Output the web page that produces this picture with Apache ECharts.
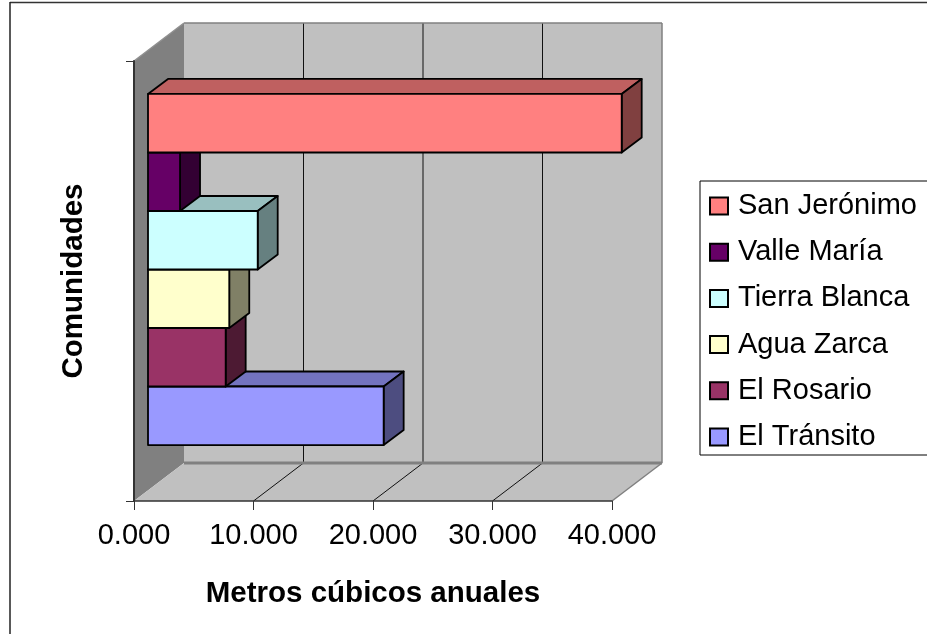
<!DOCTYPE html>
<html>
<head>
<meta charset="utf-8">
<style>html,body{margin:0;padding:0;background:#fff}#chart{width:927px;height:634px}</style>
<script src="https://cdn.jsdelivr.net/npm/echarts@6/dist/echarts.min.js"></script>
</head>
<body>
<div id="chart"></div>
<script>
// Annual volume per community, listed from the bottom bar to the top bar
const communities = ['El Tránsito', 'El Rosario', 'Agua Zarca', 'Tierra Blanca', 'Valle María', 'San Jerónimo'];
const annualVolumes = [19720, 6500, 6800, 9180, 2680, 39640];
const barColors = ['#9999ff', '#993366', '#ffffcc', '#ccffff', '#660066', '#ff8080'];
const xTicks = [0, 10000, 20000, 30000, 40000];
const xTickLabels = ['0.000', '10.000', '20.000', '30.000', '40.000'];

const FONT = '"Liberation Sans", Arial, sans-serif';
// Oblique projection of the box: room depth, bar inset and bar depth in pixels
const ROOM = [50, -38];
const INSET = [14, -11.5];
const BAR_DEPTH = [20, -15];
const SLOTS = 7.52;

const shade = (hex, f) => {
  const n = parseInt(hex.slice(1), 16);
  const c = [n >> 16, (n >> 8) & 255, n & 255].map(v => Math.round(v * f));
  return `rgb(${c.join(',')})`;
};
const poly = (points, fill, stroke, lineWidth) => ({
  type: 'polygon',
  shape: { points },
  style: { fill, stroke: stroke || null, lineWidth: lineWidth || 0, lineJoin: 'round' }
});
const seg = (a, b, stroke, lineWidth) => ({
  type: 'line',
  shape: { x1: a[0], y1: a[1], x2: b[0], y2: b[1] },
  style: { stroke, lineWidth }
});
const shift = (p, d) => [p[0] + d[0], p[1] + d[1]];

// Walls, floor and gridlines of the 3D room
function renderRoom(params, api) {
  const centre = api.coord([0, 0]);
  const band = api.size([0, 1])[1];
  const top = centre[1] - band / 2, bottom = centre[1] + band / 2;
  const xEnd = api.coord([xTicks[xTicks.length - 1], 0])[0];
  const fl = [centre[0], top], bl = [centre[0], bottom], br = [xEnd, bottom], tr = [xEnd, top];
  const children = [
    poly([fl, shift(fl, ROOM), shift(bl, ROOM), bl], '#808080'),
    poly([shift(fl, ROOM), shift(tr, ROOM), shift(br, ROOM), shift(bl, ROOM)], '#c0c0c0'),
    poly([bl, br, shift(br, ROOM), shift(bl, ROOM)], '#c0c0c0')
  ];
  xTicks.slice(1, -1).forEach(t => {
    const x = api.coord([t, 0])[0];
    const b = [x, bottom];
    const back = shift(b, ROOM);
    children.push(seg(b, back, '#111', 1));
    children.push(seg(back, [back[0], top + ROOM[1]], '#111', 1));
  });
  children.push(seg(shift(bl, ROOM), shift(br, ROOM), '#808080', 3));
  children.push(seg(shift(fl, ROOM), shift(tr, ROOM), '#808080', 1.5));
  children.push(seg(shift(tr, ROOM), shift(br, ROOM), '#808080', 1.5));
  children.push(seg(br, shift(br, ROOM), '#808080', 1.5));
  children.push(seg(fl, shift(fl, ROOM), '#909090', 1.5));
  return { type: 'group', children };
}

// One cuboid bar: front, top and side faces
const renderBar = (slot, color) => (params, api) => {
  const zero = api.coord([0, 0]);
  const end = api.coord([api.value(0), 0]);
  const band = api.size([0, 1])[1];
  const h = band / SLOTS;
  const yMid = zero[1] + INSET[1];
  const y1 = yMid + (3 - slot) * h;
  const y0 = y1 - h;
  const x0 = zero[0] + INSET[0];
  const x1 = end[0] + INSET[0];
  const a = [x0, y0], b = [x1, y0], c = [x1, y1], d = [x0, y1];
  const edge = '#000';
  return {
    type: 'group',
    children: [
      poly([a, b, shift(b, BAR_DEPTH), shift(a, BAR_DEPTH)], shade(color, 0.75), edge, 1.8),
      poly([b, c, shift(c, BAR_DEPTH), shift(b, BAR_DEPTH)], shade(color, 0.5), edge, 1.8),
      poly([a, b, c, d], color, edge, 1.8)
    ]
  };
};

const chart = echarts.init(document.getElementById('chart'), null, { renderer: 'canvas' });
chart.setOption({
  animation: false,
  backgroundColor: '#fff',
  grid: { left: 134, top: 61, width: 478, height: 440, containLabel: false },
  xAxis: {
    type: 'value', min: 0, max: 40000, interval: 10000, z: 5,
    name: 'Metros cúbicos anuales', nameLocation: 'middle', nameGap: 78,
    nameTextStyle: { fontFamily: FONT, fontSize: 29.5, fontWeight: 'bold', color: '#000' },
    axisLine: { show: true, lineStyle: { color: '#333', width: 1.5 } },
    axisTick: { show: true, length: 9, lineStyle: { color: '#333', width: 1 } },
    axisLabel: {
      fontFamily: FONT, fontSize: 29, color: '#000', margin: 20,
      hideOverlap: false, showMinLabel: true, showMaxLabel: true,
      formatter: v => xTickLabels[xTicks.indexOf(v)]
    },
    splitLine: { show: false }
  },
  yAxis: {
    type: 'category', data: [''], z: 5,
    name: 'Comunidades', nameLocation: 'middle', nameGap: 45, nameRotate: 90,
    nameTextStyle: { fontFamily: FONT, fontSize: 29.5, fontWeight: 'bold', color: '#000' },
    axisLine: { show: true, lineStyle: { color: '#333', width: 2 } },
    axisTick: { show: true, length: 8, lineStyle: { color: '#333', width: 1 } },
    axisLabel: { show: false },
    splitLine: { show: false }
  },
  legend: {
    orient: 'vertical', left: 700, top: 181,
    padding: [10, 20, 3, 9], itemGap: 16.2, itemWidth: 18, itemHeight: 17,
    icon: 'rect', selectedMode: false,
    borderColor: '#000', borderWidth: 1, backgroundColor: '#fff',
    textStyle: { fontFamily: FONT, fontSize: 29, color: '#000', lineHeight: 30, padding: [0, 0, 0, 5] },
    itemStyle: { borderColor: '#000', borderWidth: 2 },
    data: communities.slice().reverse()
  },
  series: [
    { type: 'custom', name: 'room', silent: true, data: [[0, 0]], encode: { x: 0, y: 1 }, renderItem: renderRoom, z: 1 }
  ].concat(communities.map((name, i) => ({
    type: 'custom', name, silent: true, z: 2,
    data: [[annualVolumes[i], 0]], encode: { x: 0, y: 1 },
    itemStyle: { color: barColors[i], borderColor: '#000', borderWidth: 2 },
    renderItem: renderBar(i, barColors[i])
  }))),
  graphic: [
    { type: 'line', shape: { x1: 10, y1: 2.5, x2: 927, y2: 2.5 }, style: { stroke: '#333', lineWidth: 1.5 } },
    { type: 'line', shape: { x1: 10, y1: 2, x2: 10, y2: 634 }, style: { stroke: '#222', lineWidth: 1.5 } }
  ]
});
</script>
</body>
</html>
